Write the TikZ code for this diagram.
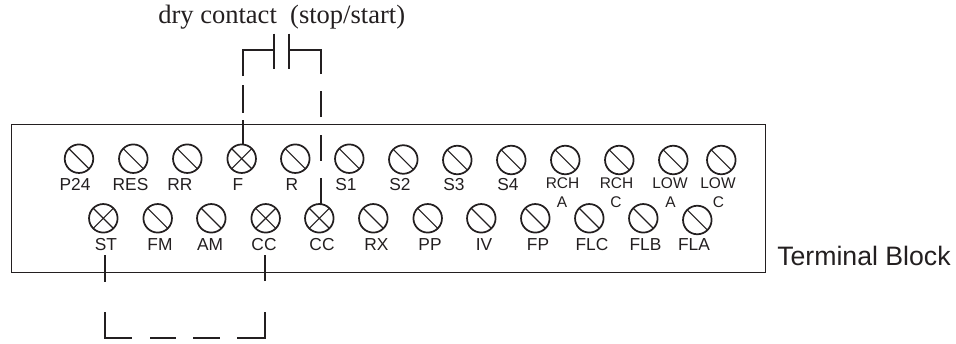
\documentclass[tikz,border=0pt]{standalone}
\usepackage{fontspec}
\setmainfont{Liberation Serif}
\setsansfont{Liberation Sans}
\definecolor{ink}{HTML}{231F20}
\tikzset{
  terminal/.style={circle,draw=ink,line width=1.3pt,minimum size=21.4pt,inner sep=0pt,outer sep=0pt},
  slashline/.style={draw=ink,line width=0.85pt},
  wire/.style={draw=ink,line width=1.35pt},
  lab/.style={anchor=base,inner sep=0pt,text=ink,font=\sffamily\fontsize{13}{15}\selectfont},
  smalllab/.style={anchor=base,inner sep=0pt,text=ink,font=\sffamily\fontsize{11.6}{13}\selectfont}
}
\begin{document}
\begin{tikzpicture}[x=0.75pt,y=-0.75pt]
\useasboundingbox (0,0) rectangle (956,343);
\node[draw=ink,line width=0.8pt,minimum width=566pt,minimum height=111.4pt,inner sep=0pt,anchor=north west] (block) at (10.5,123.5) {};
% terminals
\foreach \n/\x/\y in {P24/79/158.7,RES/133.3/158.7,RR/187.3/158.7,F/241.7/158.7,R/295.3/158.7,S1/349.3/158.7,S2/403.3/159.5,S3/457.3/160,S4/511.3/160,RCHA/565.3/160,RCHC/619.3/160,LOWA/673.3/160,LOWC/721.3/160,
  ST/103.3/218.3,FM/157.7/218.3,AM/211.3/218.3,CCa/265.7/218.3,CCb/319.3/218.3,RX/373.3/218.3,PP/427.7/218.3,IV/481.3/218.3,FP/535.3/218.3,FLC/589.3/218.3,FLB/643.3/218.3,FLA/697.3/220}{
  \node[terminal] (t\n) at (\x,\y) {};
  \draw[slashline] (t\n.north west) -- (t\n.south east);
}
\foreach \n in {F,CCb,ST,CCa}{
  \draw[slashline] (t\n.north east) -- (t\n.south west);
}
% labels
\foreach \t/\x in {P24/75,RES/130.5,RR/180,F/238,R/292,S1/346,S2/400,S3/454,S4/508}{
  \node[lab] (l\t) at (\x,190) {\t};
}
\foreach \m/\t/\x in {a/ST/106,b/FM/160,c/AM/210,d/CC/264,e/CC/322,f/RX/376.5,g/PP/430,h/IV/484,i/FP/538,j/FLC/592,k/FLB/645.5,l/FLA/694}{
  \node[lab] (m\m) at (\x,250) {\t};
}
\foreach \m/\t/\x in {a/RCH/562.5,b/RCH/616.5,c/LOW/670,d/LOW/718}{
  \node[smalllab] (u\m) at (\x,188.3) {\t};
}
\foreach \m/\t/\x in {a/A/562,b/C/616,c/A/670.5,d/C/718.5}{
  \node[smalllab] (v\m) at (\x,207.3) {\t};
}
\node[anchor=base west,inner sep=0pt,text=ink,font=\sffamily\fontsize{20}{24}\selectfont] (tb) at (777,265) {Terminal Block};
\node[anchor=base west,inner sep=0pt,text=ink,font=\fontsize{19.9}{24}\selectfont] (dc) at (158,23.5) {dry contact\ \ (stop/start)};
% contact
\coordinate (pl1) at (273.7,33.5);
\coordinate (pl2) at (273.7,69);
\coordinate (pr1) at (289,33.5);
\coordinate (pr2) at (289,69);
\coordinate (wl) at (273.7,50);
\coordinate (wr) at (289,50);
\draw[wire] (pl1) -- (pl2);
\draw[wire] (pr1) -- (pr2);
% dashed wires
\draw[wire,dash pattern=on 18.4pt off 5.2pt on 20.8pt off 6.8pt on 50pt] ([xshift=0.75pt]tF.north) -- ([xshift=0.75pt]tF.north |- wl) -- (wl);
\draw[wire,dash pattern=on 19.5pt off 12.8pt on 19.3pt off 13.5pt on 19.5pt off 12.8pt on 50pt] ([xshift=1.2pt]tCCb.north) -- ([xshift=1.2pt]tCCb.north |- wr) -- (wr);
\coordinate (sa) at (104.7,255);
\coordinate (sb) at (264.7,255);
\coordinate (ca) at (104.7,337.7);
\coordinate (cb) at (264.7,337.7);
\draw[wire,dash pattern=on 20pt off 23pt on 39.8pt off 13.3pt on 19.5pt off 13pt on 20pt off 13pt on 39.8pt off 23pt on 20pt] (sa) -- (ca) -- (cb) -- (sb);
\end{tikzpicture}
\end{document}
